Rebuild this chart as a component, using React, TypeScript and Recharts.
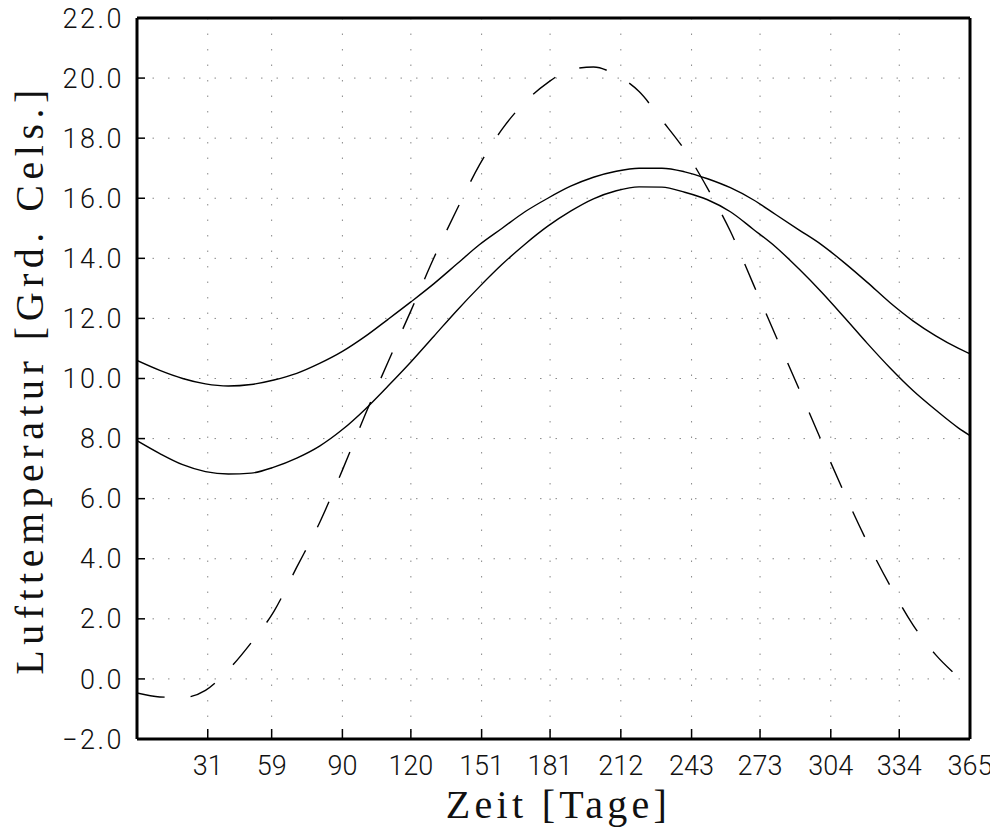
import React from 'react';
import { LineChart, Line, XAxis, YAxis, CartesianGrid, ReferenceLine, Label } from 'recharts';

const days = [0, 10, 20, 30, 40, 50, 60, 70, 80, 90, 100, 110, 120, 130, 140, 150, 160, 170, 180, 190, 200, 210, 220, 230, 240, 250, 260, 270, 280, 290, 300, 310, 320, 330, 340, 350, 360, 365];

const upperTemp = [10.6, 10.27, 10.0, 9.82, 9.75, 9.8, 9.95, 10.17, 10.5, 10.9, 11.4, 11.97, 12.55, 13.15, 13.8, 14.45, 15.0, 15.55, 16.0, 16.4, 16.7, 16.9, 17.0, 17.0, 16.88, 16.65, 16.35, 15.95, 15.45, 14.95, 14.45, 13.85, 13.2, 12.52, 11.92, 11.42, 11.0, 10.82];

const lowerTemp = [7.93, 7.5, 7.13, 6.9, 6.82, 6.85, 7.05, 7.35, 7.75, 8.3, 8.98, 9.75, 10.55, 11.4, 12.25, 13.05, 13.8, 14.47, 15.07, 15.57, 15.98, 16.25, 16.38, 16.37, 16.2, 15.95, 15.55, 14.97, 14.37, 13.65, 12.87, 12.03, 11.17, 10.35, 9.6, 8.95, 8.35, 8.1];

const airTemp = [-0.47, -0.6, -0.62, -0.38, 0.3, 1.2, 2.25, 3.72, 5.2, 6.95, 8.8, 10.55, 12.25, 14.0, 15.6, 17.1, 18.3, 19.2, 19.85, 20.28, 20.37, 20.1, 19.55, 18.6, 17.6, 16.33, 14.9, 13.15, 11.4, 9.67, 7.9, 6.17, 4.55, 3.1, 1.8, 0.8, 0.05, -0.3];

const xTicks = [31, 59, 90, 120, 151, 181, 212, 243, 273, 304, 334, 365];
const yTicks = [-2, 0, 2, 4, 6, 8, 10, 12, 14, 16, 18, 20, 22];

const xLabel = 'Zeit [Tage]';
const yLabel = 'Lufttemperatur [Grd. Cels.]';

const data = days.map((d, i) => ({
  day: d,
  upper: upperTemp[i],
  lower: lowerTemp[i],
  air: airTemp[i],
}));

const xTickStyle = { fontSize: 27, fontFamily: 'Roboto', fontWeight: 300, fill: '#111' };
const yTickStyle = { fontSize: 27, fontFamily: 'Roboto', fontWeight: 300, fill: '#111', letterSpacing: 2.5 };

const fmtY = (v: number) => (v < 0 ? '\u2212' : '') + Math.abs(v).toFixed(1);

const YLabelContent = (props: any) => {
  const vb = props.viewBox || { x: 0, y: 18, width: 137, height: 721 };
  const cx = 43;
  const cy = vb.y + vb.height / 2 + 1;
  return (
    <text
      x={cx}
      y={cy}
      transform={`rotate(-90 ${cx} ${cy})`}
      textAnchor="middle"
      fontFamily="'Liberation Serif', serif"
      fontSize={40}
      letterSpacing={5.5}
      fill="#111"
    >
      {yLabel}
    </text>
  );
};

const XLabelContent = (props: any) => {
  const vb = props.viewBox || { x: 137, y: 739, width: 833, height: 90 };
  const cx = vb.x + vb.width / 2 + 5;
  const cy = vb.y + 79;
  return (
    <text
      x={cx}
      y={cy}
      textAnchor="middle"
      fontFamily="'Liberation Serif', serif"
      fontSize={40}
      letterSpacing={4.3}
      fill="#111"
    >
      {xLabel}
    </text>
  );
};

export default function App() {
  return (
    <div style={{ marginTop: -8, marginLeft: -8 }}>
      <style>{`html { overflow: hidden; }`}</style>
      <LineChart width={998} height={829} data={data} margin={{ top: 18, right: 28, bottom: 0, left: 0 }}>
        <CartesianGrid stroke="#888" strokeDasharray="1.5 14" />
        <XAxis
          dataKey="day"
          type="number"
          domain={[0, 365]}
          ticks={xTicks}
          interval={0}
          height={90}
          tickSize={-10}
          tickMargin={27}
          axisLine={{ stroke: '#000', strokeWidth: 3 }}
          tickLine={{ stroke: '#000', strokeWidth: 1.5 }}
          tick={xTickStyle}
          allowDataOverflow
        >
          <Label content={XLabelContent} />
        </XAxis>
        <YAxis
          type="number"
          domain={[-2, 22]}
          ticks={yTicks}
          interval={0}
          width={137}
          tickSize={-8}
          tickMargin={21}
          tickFormatter={fmtY}
          axisLine={{ stroke: '#000', strokeWidth: 3 }}
          tickLine={{ stroke: '#000', strokeWidth: 1.5 }}
          tick={yTickStyle}
          allowDataOverflow
        >
          <Label content={YLabelContent} />
        </YAxis>
        <ReferenceLine y={22} stroke="#000" strokeWidth={3} />
        <ReferenceLine x={365} stroke="#000" strokeWidth={3} />
        <Line type="monotone" dataKey="upper" stroke="#000" strokeWidth={1.4} dot={false} isAnimationActive={false} />
        <Line type="monotone" dataKey="lower" stroke="#000" strokeWidth={1.4} dot={false} isAnimationActive={false} />
        <Line
          type="monotone"
          dataKey="air"
          stroke="#000"
          strokeWidth={1.4}
          strokeDasharray="28 26"
          dot={false}
          isAnimationActive={false}
        />
      </LineChart>
    </div>
  );
}
